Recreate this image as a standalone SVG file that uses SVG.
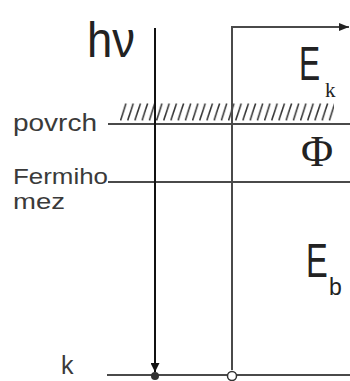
<svg xmlns="http://www.w3.org/2000/svg" width="350" height="381" viewBox="0 0 350 381">
<defs>
<style>
.ln{stroke:#4a4a4a;stroke-width:2;fill:none}
.ph{stroke:#111;stroke-width:2;fill:none}
.ht{stroke:#333;stroke-width:1.5}
.lbl{font-family:"Liberation Sans",Arial,sans-serif;fill:#3a3a3a}
.sym{font-family:"Liberation Sans",Arial,sans-serif;fill:#222}
.ser{font-family:"Liberation Serif","Times New Roman",serif;fill:#222}
</style>
<marker id="ah" markerWidth="10" markerHeight="8" refX="10" refY="4" orient="auto" markerUnits="userSpaceOnUse">
<path d="M0,0 L10,4 L0,8 Z" fill="#222"/>
</marker>
<marker id="ahd" markerWidth="9" markerHeight="9" refX="9" refY="4.5" orient="auto" markerUnits="userSpaceOnUse">
<path d="M0,0 L9,4.5 L0,9 Z" fill="#111"/>
</marker>
<pattern id="hatch" x="120" y="103" width="7.2" height="18" patternUnits="userSpaceOnUse">
<line x1="0.5" y1="17.5" x2="6" y2="0.5" class="ht"/>
</pattern>
</defs>
<g id="connectors">
<line class="ln" x1="108" y1="124" x2="350" y2="124"/>
<line class="ln" x1="108" y1="182" x2="350" y2="182"/>
<line class="ln" x1="107" y1="375" x2="350" y2="375"/>
<rect x="120" y="103" width="214" height="18" fill="url(#hatch)"/>
<path class="ln" d="M232,370 V27 H349" marker-end="url(#ah)"/>
<line class="ph" x1="155" y1="28" x2="155" y2="372" marker-end="url(#ahd)"/>
</g>
<g id="hv"><text class="sym" x="87" y="57" font-size="50" textLength="48" lengthAdjust="spacingAndGlyphs">hν</text></g>
<g id="Ek"><text class="sym" transform="translate(299,80) scale(0.66,1)" font-size="48">E</text><text class="ser" x="325" y="97" font-size="21">k</text></g>
<g id="Phi"><text class="ser" x="301" y="166" font-size="44">Φ</text></g>
<g id="Eb"><text class="sym" transform="translate(306,277) scale(0.68,1)" font-size="48">E</text><text class="sym" x="329" y="295" font-size="23">b</text></g>
<g id="povrch"><text class="lbl" x="13" y="131" font-size="23" textLength="84" lengthAdjust="spacingAndGlyphs">povrch</text></g>
<g id="fermi"><text class="lbl" x="13" y="184" font-size="22" textLength="95" lengthAdjust="spacingAndGlyphs">Fermiho</text><text class="lbl" x="13" y="209" font-size="22" textLength="52" lengthAdjust="spacingAndGlyphs">mez</text></g>
<g id="k"><text class="lbl" x="61" y="374" font-size="25">k</text></g>
<g id="dot"><circle cx="155" cy="376" r="4" fill="#333"/></g>
<g id="hole"><circle cx="232" cy="376" r="4.5" fill="#fff" stroke="#333" stroke-width="1.5"/></g>
</svg>
